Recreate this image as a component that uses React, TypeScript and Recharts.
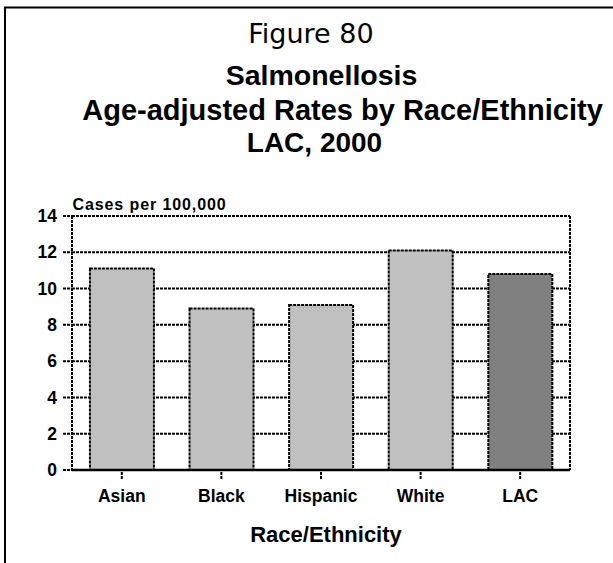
import React from 'react';
import { BarChart, Bar, XAxis, YAxis, CartesianGrid, Cell } from 'recharts';

const categories = ['Asian', 'Black', 'Hispanic', 'White', 'LAC'];
const rates = [11.1, 8.9, 9.1, 12.1, 10.8];
const barColors = ['#c0c0c0', '#c0c0c0', '#c0c0c0', '#c0c0c0', '#808080'];
const yTicks = [0, 2, 4, 6, 8, 10, 12, 14];

const figureLabel = 'Figure 80';
const titleLines = ['Salmonellosis', 'Age-adjusted Rates by Race/Ethnicity', 'LAC, 2000'];
const yAxisTitle = 'Cases per 100,000';
const xAxisTitle = 'Race/Ethnicity';

const data = categories.map((c, i) => ({ name: c, value: rates[i] }));

const FONT = '"Liberation Sans", Arial, sans-serif';
const DOT = '3 1';

export default function App() {
  return (
    <div style={{ position: 'absolute', left: 0, top: 0, width: 613, height: 563, background: '#fff', overflow: 'hidden' }}>
      <BarChart
        width={613}
        height={563}
        data={data}
        margin={{ top: 216, right: 43, bottom: 63, left: 0 }}
        barCategoryGap="18%"
      >
        <CartesianGrid
          stroke="#000"
          strokeWidth={2}
          strokeDasharray={DOT}
          horizontal
          vertical
          verticalCoordinatesGenerator={({ offset }: any) => [offset.left, offset.left + offset.width]}
        />
        <XAxis
          dataKey="name"
          interval={0}
          height={30}
          axisLine={{ stroke: '#000', strokeWidth: 2.5 }}
          tickLine={{ stroke: '#000', strokeWidth: 2, strokeDasharray: DOT }}
          tickSize={9}
          tickMargin={11}
          tick={{ fill: '#000', fontSize: 17.5, fontWeight: 'bold', fontFamily: FONT }}
        />
        <YAxis
          width={72}
          domain={[0, 14]}
          ticks={yTicks}
          interval={0}
          axisLine={{ stroke: '#000', strokeWidth: 2, strokeDasharray: DOT }}
          tickLine={{ stroke: '#000', strokeWidth: 2, strokeDasharray: DOT }}
          tickSize={9}
          tickMargin={6}
          tick={{ fill: '#000', fontSize: 17.5, fontWeight: 'bold', fontFamily: FONT }}
        />
        <Bar dataKey="value" isAnimationActive={false} stroke="#000" strokeWidth={2} strokeDasharray={DOT}>
          {data.map((d, i) => (
            <Cell key={d.name} fill={barColors[i]} />
          ))}
        </Bar>
      </BarChart>
      <svg
        width={613}
        height={563}
        style={{ position: 'absolute', left: 0, top: 0, pointerEvents: 'none' }}
      >
        <rect x={5} y={7.5} width={700} height={700} fill="none" stroke="#000" strokeWidth={2} />
        <text x={311} y={43} textAnchor="middle" fontFamily='"DejaVu Sans", sans-serif' fontSize={27} fill="#000">
          {figureLabel}
        </text>
        <text x={321.5} y={85} textAnchor="middle" fontFamily={FONT} fontWeight="bold" fontSize={28.5} fill="#000">
          {titleLines[0]}
        </text>
        <text x={342.5} y={120} textAnchor="middle" fontFamily={FONT} fontWeight="bold" fontSize={29} fill="#000">
          {titleLines[1]}
        </text>
        <text x={314.5} y={152} textAnchor="middle" fontFamily={FONT} fontWeight="bold" fontSize={28} fill="#000">
          {titleLines[2]}
        </text>
        <text x={72.5} y={210} fontFamily={FONT} fontWeight="bold" fontSize={16} letterSpacing={0.9} fill="#000">
          {yAxisTitle}
        </text>
        <text x={326} y={542} textAnchor="middle" fontFamily={FONT} fontWeight="bold" fontSize={22} fill="#000">
          {xAxisTitle}
        </text>
      </svg>
    </div>
  );
}
